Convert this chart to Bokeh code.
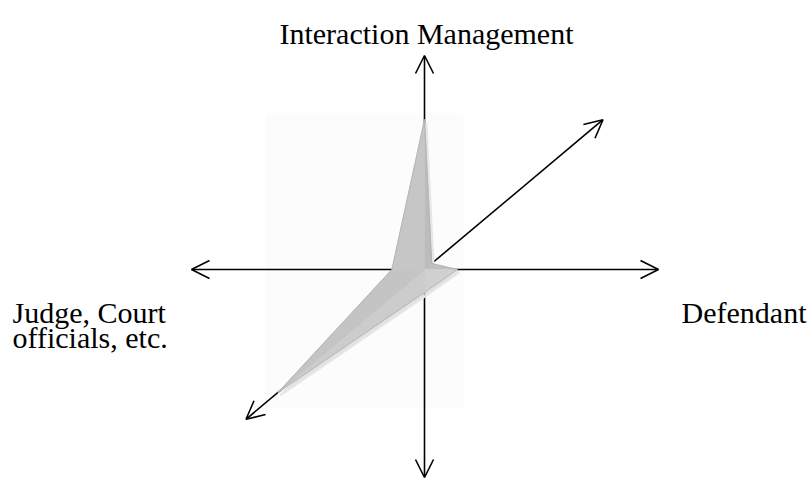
import math
from bokeh.plotting import figure
from bokeh.models import Range1d, Arrow, OpenHead, BoxAnnotation, ColumnDataSource
from bokeh.core.properties import value
from bokeh.embed import file_html
from bokeh.resources import INLINE

# ---------------- data ----------------
axis_names = ["Interaction Management", "upper-right", "Defendant",
              "down", "lower-left", "Judge, Court officials, etc."]
axis_values = [0.70, 0.04, 0.14, 0.11, 0.82, 0.14]   # share of each axis length
label_top = ["Interaction Management"]
label_right = ["Defendant"]
label_left = ["Judge, Court", "officials, etc."]

# ---------------- layout (image pixel coordinates) ----------------
W, H = 810, 481
CX, CY = 424.0, 269.0
axis_angle = [90, 40, 0, -90, 220, 180]          # degrees, counter-clockwise from +x
axis_len = [214, 233, 234, 208, 233, 233]

p = figure(width=W, height=H, output_backend="svg", toolbar_location=None,
           x_range=Range1d(0, W), y_range=Range1d(H, 0),
           min_border=0, outline_line_color=None)
p.axis.visible = False
p.grid.visible = False
p.background_fill_color = "white"
p.border_fill_color = "white"

# faint backdrop of the pasted image
p.add_layout(BoxAnnotation(left=265, right=463, top=113, bottom=408,
                           fill_color="#fcfcfc", fill_alpha=1.0,
                           line_color=None, level="underlay"))

# axes with open arrow heads (under the star)
def tip(i, frac=1.0):
    a = math.radians(axis_angle[i])
    r = axis_len[i] * frac
    return CX + r * math.cos(a), CY - r * math.sin(a)

for i in range(len(axis_names)):
    ex, ey = tip(i)
    p.add_layout(Arrow(end=OpenHead(size=18, line_width=1.6, line_color="black"),
                       x_start=CX, y_start=CY, x_end=ex, y_end=ey,
                       line_width=1.6, line_color="black", level="underlay"))

# star polygon from the values
pts = [tip(i, v) for i, v in enumerate(axis_values)]
xs = [q[0] for q in pts]
ys = [q[1] for q in pts]

# soft shadow
p.patch([x + 2 for x in xs], [y + 3 for y in ys], fill_color="#d9d9d9",
        fill_alpha=0.8, line_color="#e6e6e6", line_width=2)

# faceted fill (bevel look)
face_colors = ["#bcbcbc", "#c0c0c0", "#d0d0d0", "#cccccc", "#c4c4c4", "#c6c6c6"]
fx, fy = [], []
n = len(pts)
for i in range(n):
    j = (i + 1) % n
    fx.append([CX, xs[i], xs[j]])
    fy.append([CY, ys[i], ys[j]])
src = ColumnDataSource(dict(xs=fx, ys=fy, c=face_colors))
p.patches("xs", "ys", source=src, fill_color="c", line_color="c", line_width=0.8)
p.patch(xs, ys, fill_color=None, line_color="#b0b0b0", line_width=0.8)

# labels
font = value("Liberation Serif")
p.text(x=[426], y=[33], text=label_top, text_font=font, text_font_size="30px",
       text_align="center", text_baseline="alphabetic", text_color="black")
p.text(x=[806], y=[312], text=label_right, text_font=font, text_font_size="30px",
       text_align="right", text_baseline="alphabetic", text_color="black")
p.text(x=[12, 12], y=[312, 337], text=label_left, text_font=font,
       text_font_size="30px", text_align="left", text_baseline="alphabetic",
       text_color="black")

open("out.html", "w").write(file_html(p, INLINE))
